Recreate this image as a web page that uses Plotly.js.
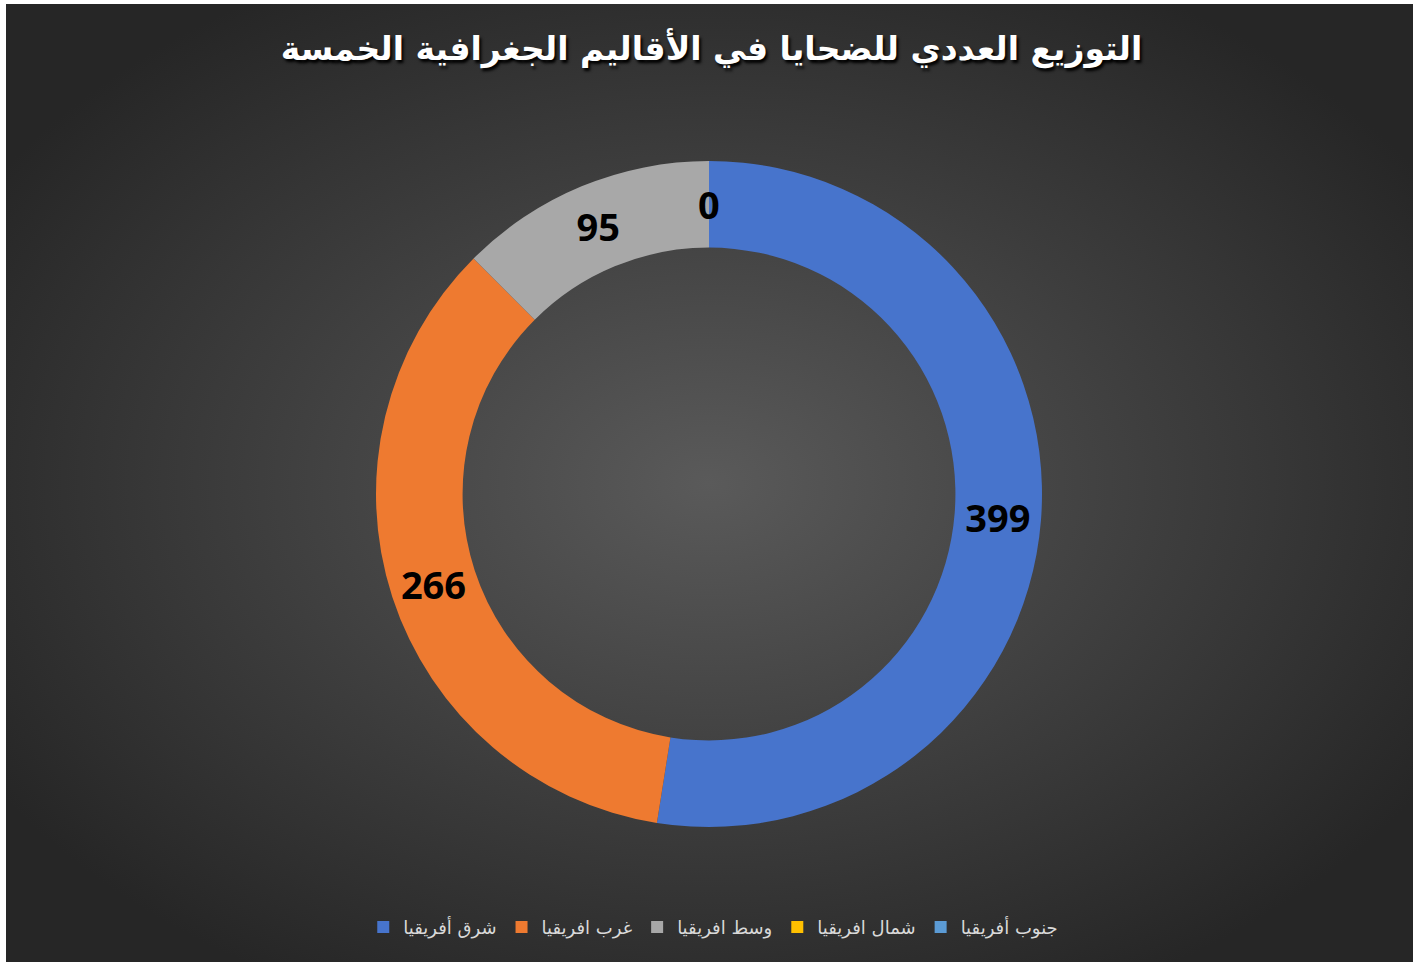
<!DOCTYPE html>
<html><head><meta charset="utf-8">
<script src="https://cdn.plot.ly/plotly-3.0.1.min.js"></script>
<style>
html,body{margin:0;padding:0;background:#fff;width:1423px;height:966px;overflow:hidden}
#bg{position:absolute;left:6px;top:4px;width:1407px;height:958px;
background:radial-gradient(ellipse 60% 60% at 50% 50%, #5a5a5a 0%, #3d3d3d 55%, #262626 100%);}
#chart{position:absolute;left:0;top:0;width:1423px;height:966px}
</style></head><body>
<div id="bg"></div>
<div id="chart"></div>
<script>
const titleText = "التوزيع العددي للضحايا في الأقاليم الجغرافية الخمسة";
const regions = ["شرق أفريقيا", "غرب افريقيا", "وسط افريقيا", "شمال افريقيا", "جنوب أفريقيا"];
const victims = [399, 266, 95, 0, 0];
const colors = ["#4774cc", "#ee7a30", "#a8a8a8", "#ffc000", "#5b9bd5"];

const HOLE = 0.74;
const W = 1423, H = 966;
const M = {l: 0, r: 5, t: 161, b: 139};
const labelFont = {family: "Open Sans, DejaVu Sans, sans-serif", size: 38, color: "#000", weight: "bold"};

const trace = {
  type: "pie",
  labels: regions,
  values: victims,
  hole: HOLE,
  sort: false,
  direction: "clockwise",
  rotation: 0,
  marker: {colors: colors, line: {width: 0}},
  textinfo: "value",
  textposition: "inside",
  insidetextorientation: "horizontal",
  textfont: labelFont,
  hoverinfo: "label+value"
};

// Plotly does not draw text for zero-size slices; place those labels at the slice's angle from the data
const total = victims.reduce((a, b) => a + b, 0);
const plotW = W - M.l - M.r, plotH = H - M.t - M.b;
const R = Math.min(plotW, plotH) / 2;
const rMid = R * (1 + HOLE) / 2;
const annotations = [];
let cum = 0;
const seenAngles = new Set();
victims.forEach((v, i) => {
  const a = (cum + v / 2) / total * 2 * Math.PI;
  cum += v;
  if (v === 0) {
    const key = a.toFixed(4);
    if (seenAngles.has(key)) return;
    seenAngles.add(key);
    annotations.push({
      xref: "paper", yref: "paper",
      x: 0.5 + rMid * Math.sin(a) / plotW,
      y: 0.5 + rMid * Math.cos(a) / plotH,
      text: String(v), showarrow: false, font: labelFont,
      xanchor: "center", yanchor: "middle"
    });
  }
});

const layout = {
  width: W, height: H,
  paper_bgcolor: "rgba(0,0,0,0)",
  plot_bgcolor: "rgba(0,0,0,0)",
  margin: M,
  title: {
    text: titleText,
    x: 0.5, xref: "container", y: 0.95, yref: "container", yanchor: "middle",
    font: {family: "DejaVu Sans, sans-serif", size: 33, color: "#ffffff", weight: "bold", shadow: "2px 3px 3px #000"}
  },
  annotations: annotations,
  showlegend: true,
  legend: {
    orientation: "h", x: 0.503, xanchor: "center", y: 0.04, yref: "container", yanchor: "middle",
    font: {family: "DejaVu Sans, sans-serif", size: 18, color: "#d9d9d9"},
    itemwidth: 30, traceorder: "normal"
  }
};

Plotly.newPlot("chart", [trace], layout, {displayModeBar: false});
</script>
</body></html>
